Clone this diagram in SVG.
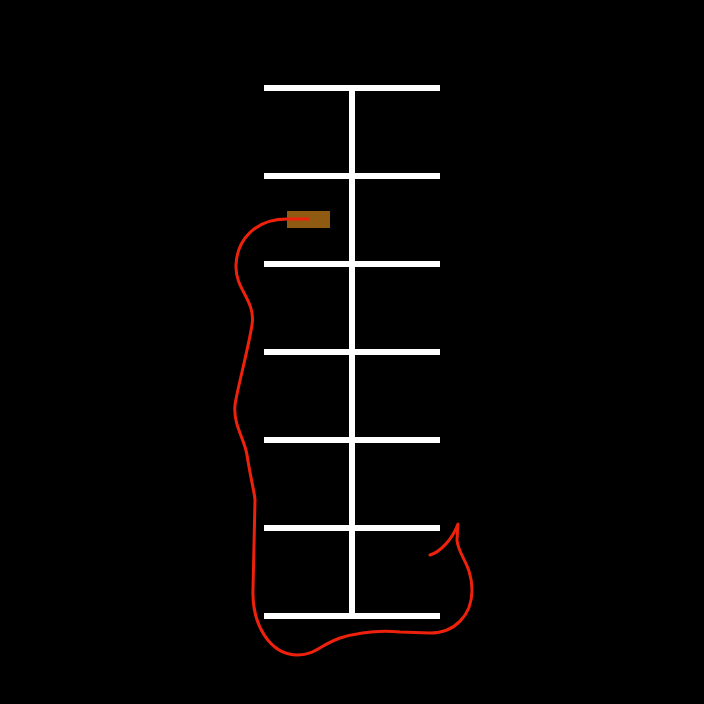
<svg xmlns="http://www.w3.org/2000/svg" width="704" height="704" viewBox="0 0 704 704">
<style>
.rung{stroke:#ffffff;stroke-width:6;fill:none}
.wire{stroke:#ee220c;stroke-width:3;fill:none;stroke-linecap:round;stroke-linejoin:round}
</style>
<rect width="704" height="704" fill="#000"/>
<g id="ladder">
<line class="rung" x1="352" y1="88" x2="352" y2="616"/>
<line class="rung" x1="264" y1="88" x2="440" y2="88"/>
<line class="rung" x1="264" y1="176" x2="440" y2="176"/>
<line class="rung" x1="264" y1="264" x2="440" y2="264"/>
<line class="rung" x1="264" y1="352" x2="440" y2="352"/>
<line class="rung" x1="264" y1="440" x2="440" y2="440"/>
<line class="rung" x1="264" y1="528" x2="440" y2="528"/>
<line class="rung" x1="264" y1="616" x2="440" y2="616"/>
</g>
<g id="block">
<rect x="287" y="211" width="43" height="17" fill="#8f5a12"/>
</g>
<g id="connectors">
<path class="wire" d="M308,219 L287,219 C255,219 237,240 236,265 C235,290 256,300 252,325 C248,350 237,390 235,405 C233,425 245,440 247,455 C250,475 255,495 255,500 L253,590 C252,625 270,655 298,655 C315,655 320,645 340,638 C360,632 380,630 400,632 L430,633 C455,633 472,615 472,590 C472,565 458,555 457,540 L458,524 C452,540 440,552 430,555"/>
</g>
</svg>
